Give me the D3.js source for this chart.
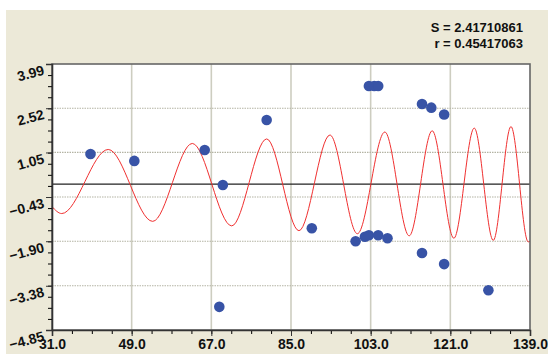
<!DOCTYPE html>
<html>
<head>
<meta charset="utf-8">
<script src="https://cdn.jsdelivr.net/npm/d3@7"></script>
<style>
  body { margin: 0; background: #fff; }
  svg { display: block; font-family: Arial, "Liberation Sans", sans-serif; }
</style>
</head>
<body>
<script>
// tick labels
const xTicks = [31.0, 49.0, 67.0, 85.0, 103.0, 121.0, 139.0];
const yTicks = [3.99, 2.52, 1.05, -0.43, -1.90, -3.38, -4.85];

// data points
const pointX = [39.7, 49.6, 65.5, 69.6, 79.5, 68.8, 89.7, 99.6, 101.7, 102.6, 104.7, 106.8,
                102.6, 103.8, 104.7, 114.6, 116.7, 119.6, 114.6, 119.6, 129.6];
const pointY = [1.00, 0.77, 1.13, -0.03, 2.13, -4.08, -1.47, -1.90, -1.75, -1.70, -1.70, -1.80,
                3.26, 3.26, 3.26, 2.66, 2.54, 2.31, -2.29, -2.66, -3.53];

// fitted curve, start / extrema / end
const curveX = [31.0, 33.2, 43.7, 53.75, 62.7, 71.6, 79.5, 86.8, 93.8, 100.0, 106.2, 111.7,
                116.9, 121.8, 126.4, 130.7, 134.7, 138.6, 139.0];
const curveY = [-0.75, -0.98, 1.15, -1.24, 1.35, -1.39, 1.50, -1.55, 1.63, -1.65, 1.73, -1.72,
                1.77, -1.80, 1.86, -1.87, 1.91, -1.92, -1.90];

const statLines = ['S = 2.41710861', 'r = 0.45417063'];

const W = 548, H = 354;
const plotL = 52, plotR = 530, plotT = 64, plotB = 330;

const svg = d3.select(document.body)
    .append('svg')
    .attr('width', W)
    .attr('height', H);

// beige panel
svg.append('rect')
    .attr('x', 6).attr('y', 10)
    .attr('width', W - 6).attr('height', H - 10)
    .attr('fill', '#ece9d8');

const x = d3.scaleLinear().domain([31, 139]).range([plotL, plotR]);
const y = d3.scaleLinear().domain([-4.85, 3.99]).range([plotB, plotT]);

// plot area
svg.append('rect')
    .attr('x', plotL).attr('y', plotT)
    .attr('width', plotR - plotL).attr('height', plotB - plotT)
    .attr('fill', '#fff');

// grid
svg.append('g')
    .selectAll('line')
    .data(xTicks.slice(1, -1))
    .enter()
    .append('line')
    .attr('x1', d => x(d)).attr('x2', d => x(d))
    .attr('y1', plotT).attr('y2', plotB)
    .attr('stroke', '#cdcdc0')
    .attr('stroke-width', 1.6);

svg.append('g')
    .selectAll('line')
    .data(yTicks.slice(1, -1))
    .enter()
    .append('line')
    .attr('x1', plotL).attr('x2', plotR)
    .attr('y1', d => y(d)).attr('y2', d => y(d))
    .attr('stroke', '#b4b4a4')
    .attr('stroke-width', 1.2)
    .attr('stroke-dasharray', '1.5,1');

// zero line
svg.append('line')
    .attr('x1', plotL).attr('x2', plotR)
    .attr('y1', y(0)).attr('y2', y(0))
    .attr('stroke', '#222')
    .attr('stroke-width', 1.3);

// curve
const line = d3.line()
    .x(d => x(d[0]))
    .y(d => y(d[1]))
    .curve(d3.curveMonotoneX);

svg.append('path')
    .attr('d', line(d3.zip(curveX, curveY)))
    .attr('fill', 'none')
    .attr('stroke', '#f03030')
    .attr('stroke-width', 1);

// points
svg.append('g')
    .selectAll('circle')
    .data(d3.zip(pointX, pointY))
    .enter()
    .append('circle')
    .attr('cx', d => x(d[0]))
    .attr('cy', d => y(d[1]))
    .attr('r', 5.3)
    .attr('fill', '#3853a6');

// frame
svg.append('rect')
    .attr('x', plotL).attr('y', plotT)
    .attr('width', plotR - plotL).attr('height', plotB - plotT)
    .attr('fill', 'none')
    .attr('stroke', '#666')
    .attr('stroke-width', 1.6);

// x axis
const xMinor = d3.range(31, 139.01, 4.5);
svg.append('g')
    .attr('transform', `translate(0,${plotB})`)
    .call(d3.axisBottom(x).tickValues(xMinor).tickSize(4).tickFormat(''))
    .call(g => g.select('.domain').remove());

const xAxis = svg.append('g')
    .attr('transform', `translate(0,${plotB})`)
    .call(d3.axisBottom(x).tickValues(xTicks).tickSize(6).tickFormat(d3.format('.1f')));
xAxis.select('.domain').attr('stroke', '#333').attr('stroke-width', 1.6);
xAxis.selectAll('line').attr('stroke', '#333');
xAxis.selectAll('text')
    .attr('y', 9)
    .attr('fill', '#111')
    .style('font-size', '14px')
    .style('font-weight', 'bold');

// y axis
const yStep = (3.99 + 4.85) / 24;
const yMinor = d3.range(25).map(i => -4.85 + i * yStep);
svg.append('g')
    .attr('transform', `translate(${plotL},0)`)
    .call(d3.axisLeft(y).tickValues(yMinor).tickSize(4).tickFormat(''))
    .call(g => g.select('.domain').remove());

const yAxis = svg.append('g')
    .attr('transform', `translate(${plotL},0)`)
    .call(d3.axisLeft(y).tickValues(yTicks).tickSize(6).tickFormat(d3.format('.2f')));
yAxis.select('.domain').attr('stroke', '#333').attr('stroke-width', 1.6);
yAxis.selectAll('line').attr('stroke', '#333');
yAxis.selectAll('text')
    .attr('x', -7)
    .attr('dy', 0)
    .attr('y', 10)
    .attr('transform', 'rotate(-15,-7,10)')
    .attr('fill', '#111')
    .style('font-size', '14px')
    .style('font-weight', 'bold');

// stats
svg.append('g')
    .selectAll('text')
    .data(statLines)
    .enter()
    .append('text')
    .attr('x', 523)
    .attr('y', (d, i) => 32 + i * 16)
    .attr('text-anchor', 'end')
    .attr('fill', '#111')
    .style('font-size', '13px')
    .style('font-weight', 'bold')
    .text(d => d);
</script>
</body>
</html>
